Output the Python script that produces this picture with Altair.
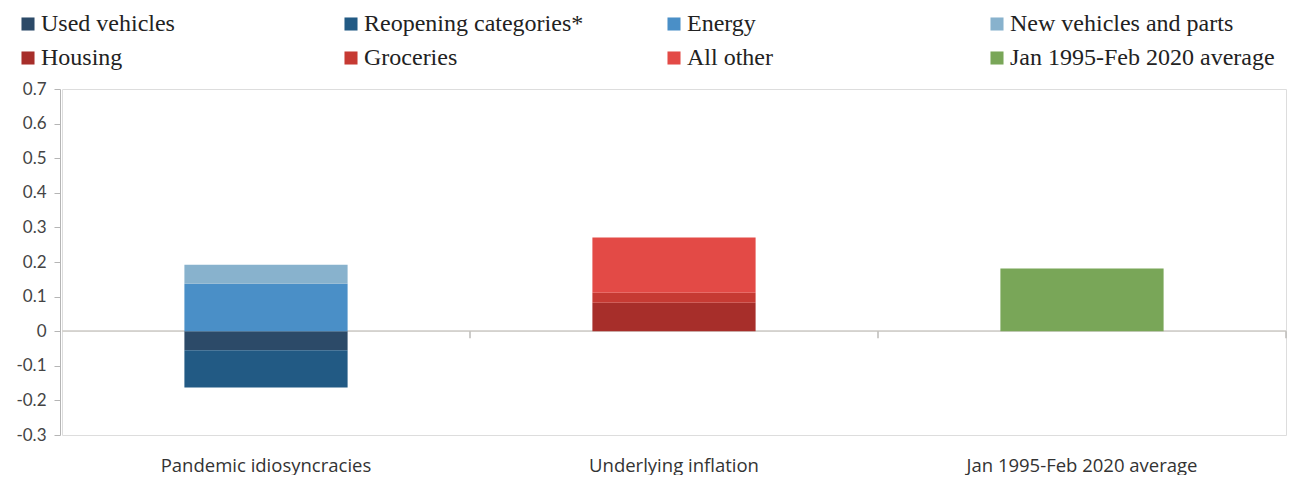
import altair as alt
import pandas as pd

categories = ["Pandemic idiosyncracies", "Underlying inflation", "Jan 1995-Feb 2020 average"]
series = ["Used vehicles", "Reopening categories*", "Energy", "New vehicles and parts",
          "Housing", "Groceries", "All other", "Jan 1995-Feb 2020 average"]
series_category = ["Pandemic idiosyncracies", "Pandemic idiosyncracies", "Pandemic idiosyncracies",
                   "Pandemic idiosyncracies", "Underlying inflation", "Underlying inflation",
                   "Underlying inflation", "Jan 1995-Feb 2020 average"]
values = [-0.055, -0.108, 0.137, 0.055, 0.082, 0.029, 0.160, 0.181]
colors = ["#2c4a68", "#225a84", "#4a8fc7", "#88b2cd", "#a72e2a", "#c63a33", "#e34a46", "#79a658"]
y_ticks = [-0.3, -0.2, -0.1, 0, 0.1, 0.2, 0.3, 0.4, 0.5, 0.6, 0.7]

df = pd.DataFrame({
    "category": series_category,
    "series": series,
    "value": values,
    "order": list(range(len(series))),
})
cat_df = pd.DataFrame({"category": categories})

W, H = 1224, 346
STEP = W / 3
xscale = alt.Scale(domain=categories, paddingInner=0.6, paddingOuter=0.3)
yscale = alt.Scale(domain=[-0.3, 0.7], nice=False, zero=False)

bars = alt.Chart(df).mark_bar(opacity=1, strokeWidth=0).encode(
    x=alt.X("category:N", sort=categories, title=None, scale=xscale,
            axis=alt.Axis(orient="bottom", labelAngle=0, domain=False, ticks=False,
                          labelAlign="center",
                          labelPadding=21, labelFont="Open Sans", labelFontSize=18.5,
                          labelColor="#333333", labelLimit=500)),
    y=alt.Y("value:Q", title=None, stack="zero", scale=yscale,
            axis=alt.Axis(values=y_ticks, grid=False, domainColor="#b5b5b5", tickColor="#b5b5b5",
                          tickSize=6, offset=2, labelPadding=8, labelFont="Lato",
                          labelFontSize=17, labelColor="#444444", labelOverlap=False,
                          labelExpr="datum.value == 0 ? '0' : toString(round(datum.value*10)/10)",
                          minExtent=52, maxExtent=52)),
    color=alt.Color("series:N", sort=series,
                    scale=alt.Scale(domain=series, range=colors),
                    legend=alt.Legend(title=None, orient="none", legendX=-46, legendY=-77,
                                      direction="horizontal", columns=4, gridAlign="all",
                                      columnPadding=33, rowPadding=10, padding=0,
                                      symbolType="square", symbolSize=170, symbolStrokeWidth=0,
                                      symbolOpacity=1, symbolOffset=0,
                                      labelFont="Liberation Serif", labelFontSize=24,
                                      labelColor="#222222", labelLimit=400, labelOffset=1)),
    order=alt.Order("order:Q"),
)

zero_line = alt.Chart(cat_df).mark_rule(color="#d4d2ce", strokeWidth=1.5).encode(
    y=alt.Y(datum=0, scale=yscale, axis=None)
)

x_ticks = alt.Chart(cat_df).mark_rule(color="#bdbbb8", strokeWidth=1.5,
                                      xOffset=STEP * 0.3, y2Offset=7).encode(
    x=alt.X("category:N", sort=categories, scale=xscale, bandPosition=1, axis=None),
    y=alt.Y(datum=0, scale=yscale, axis=None),
    y2=alt.Y2(datum=0),
)

chart = alt.layer(zero_line, x_ticks, bars).resolve_axis(
    x="independent", y="independent"
).properties(
    width=W, height=H,
    padding={"left": 0, "top": 4, "right": 0, "bottom": 0},
).configure_view(fill="#f8f6f2", stroke="transparent", strokeWidth=0).configure(background="#ffffff")

chart.save("out.html", embed_options={"renderer": "svg", "actions": False})
